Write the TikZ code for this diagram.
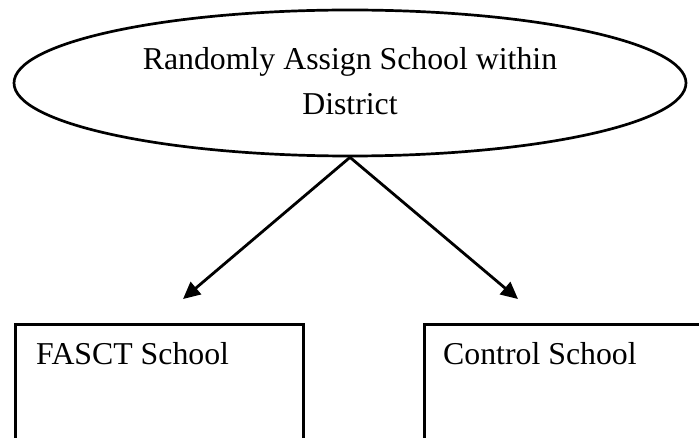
\documentclass[tikz,border=0pt]{standalone}
\usepackage{fontspec}
\setmainfont{Liberation Serif}
\usetikzlibrary{shapes.geometric,arrows.meta}
\tikzset{
  bigtext/.style={font=\fontsize{31.8pt}{45pt}\selectfont, inner sep=0pt},
  oval/.style={draw, ellipse, line width=2.7pt, minimum width=672pt, minimum height=146pt, inner sep=0pt},
  schoolbox/.style={draw, rectangle, line width=2.7pt, minimum width=288pt, minimum height=160pt, anchor=north west, inner sep=0pt},
  conn/.style={line width=2.8pt, -{Triangle[length=17pt,width=16pt]}}
}
\begin{document}
\begin{tikzpicture}[x=1pt,y=-1pt]
\useasboundingbox (0,0) rectangle (699,438);
\clip (0,0) rectangle (699,438);
\fill[white] (0,0) rectangle (699,438);
\node[oval] (assign) at (350,83) {};
\node[bigtext, align=center, anchor=base] (assigntext) at (350,115) {Randomly Assign School within\\District};
\node[schoolbox] (fasct) at (14,323) {};
\node[schoolbox] (control) at (423,323) {};
\node[bigtext, anchor=base west] (fasctlabel) at (36,364) {FASCT School};
\node[bigtext, anchor=base west] (controllabel) at (443,364) {Control School};
\coordinate (tipL) at (183,299);
\coordinate (tipR) at (518,299);
\draw[conn] (assign.south) -- (tipL);
\draw[conn] (assign.south) -- (tipR);
\end{tikzpicture}
\end{document}
